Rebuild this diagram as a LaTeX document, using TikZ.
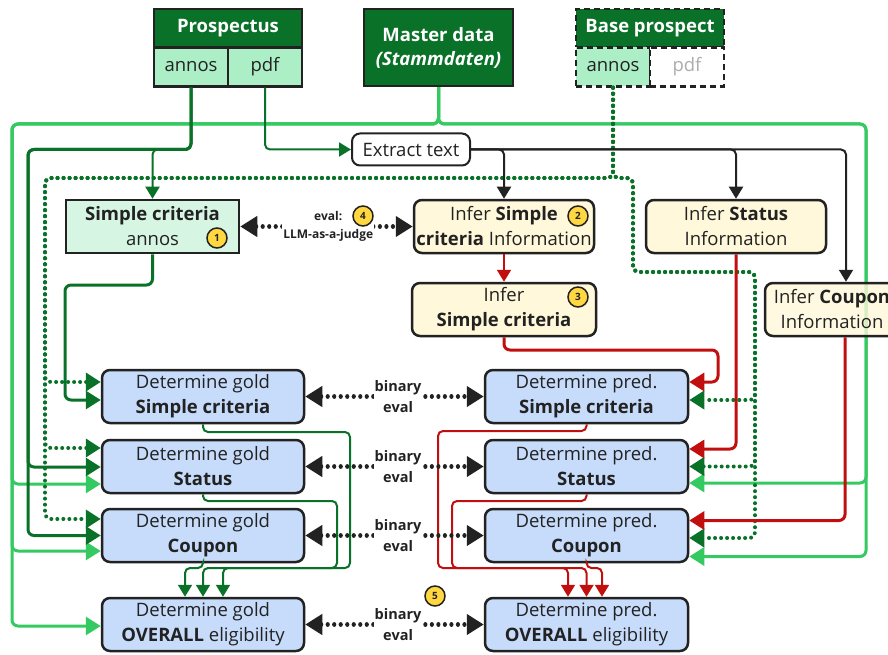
\documentclass[tikz,border=0pt]{standalone}
\usepackage{fontspec}
\setmainfont{Open Sans}
\usetikzlibrary{arrows.meta,backgrounds}

\definecolor{dkgreen}{RGB}{10,114,40}
\definecolor{ltgreen}{RGB}{52,201,97}
\definecolor{mint}{RGB}{172,239,199}
\definecolor{palemint}{RGB}{214,245,227}
\definecolor{cream}{RGB}{255,248,218}
\definecolor{paleblue}{RGB}{199,220,251}
\definecolor{predred}{RGB}{193,14,14}
\definecolor{badgefill}{RGB}{255,215,64}
\definecolor{ink}{RGB}{34,34,34}

\tikzset{
	txt/.style={text=ink, align=center, inner sep=0pt, font=\fontsize{18.5}{25}\selectfont},
	headbox/.style={draw=ink, line width=2.5pt, fill=dkgreen, text=white, align=center, inner sep=0pt, font=\bfseries\fontsize{18.5}{24}\selectfont},
	cellbox/.style={txt, draw=ink, line width=2.5pt, fill=mint, minimum width=74pt, minimum height=39pt},
	inferbox/.style={txt, draw=ink, line width=2.5pt, fill=cream, rounded corners=8pt, minimum height=53pt},
	detbox/.style={txt, draw=ink, line width=2.5pt, fill=paleblue, rounded corners=8pt, minimum width=202pt, minimum height=53pt},
	badge/.style={circle, draw=ink, line width=1.5pt, fill=badgefill, text=ink, minimum size=20pt, inner sep=0pt, font=\bfseries\fontsize{10}{10}\selectfont},
	thickline/.style={line width=3pt, rounded corners=6pt, -{Triangle[length=15pt,width=18pt]}},
	thinline/.style={line width=2pt, rounded corners=5pt, -{Triangle[length=12pt,width=14pt]}},
	dotline/.style={dkgreen, line width=4pt, line cap=round, dash pattern=on 0.01pt off 6pt, rounded corners=6pt, -{Triangle[length=15pt,width=18pt]}},
	evalline/.style={ink, line width=4.2pt, line cap=round, dash pattern=on 0.01pt off 6.5pt, {Triangle[length=17pt,width=20pt]}-{Triangle[length=17pt,width=20pt]}},
	evallabel/.style={fill=white, text=ink, align=center, inner sep=1pt, font=\bfseries\fontsize{14.5}{21}\selectfont}
}

\begin{document}
\begin{tikzpicture}[x=1pt,y=-1pt]
\useasboundingbox (0,0) rectangle (888,655);

%sources
\node[headbox, minimum width=148pt, minimum height=38pt] (prosp) at (228,28) {Prospectus};
\node[cellbox] (prospannos) at (191,67) {annos};
\node[cellbox] (prosppdf) at (265,67) {pdf};
\node[headbox, minimum width=149pt, minimum height=77pt] (master) at (438.5,47.5) {Master data\\\textit{(Stammdaten)}};
\node[headbox, dashed, dash pattern=on 6pt off 4pt, minimum width=148pt, minimum height=38pt] (base) at (650,28) {Base prospect};
\node[cellbox, dash pattern=on 6pt off 4pt] (baseannos) at (613,67) {annos};
\node[cellbox, dash pattern=on 6pt off 4pt, fill=white, text=black!32] (basepdf) at (687,67) {pdf};

%extraction and inference
\node[txt, draw=ink, line width=2pt, fill=white, rounded corners=8pt, minimum width=118pt, minimum height=32pt] (extract) at (411,149.5) {Extract text};
\node[txt, draw=ink, line width=2.5pt, fill=palemint, minimum width=173pt, minimum height=53pt] (scannos) at (152.5,226.5) {\textbf{Simple criteria}\\annos};
\node[inferbox, minimum width=180pt] (infsci) at (504,226.5) {Infer \textbf{Simple}\\\textbf{criteria} Information};
\node[inferbox, minimum width=180pt] (infstat) at (736,226.5) {Infer \textbf{Status}\\Information};
\node[inferbox, minimum width=184pt] (infsc) at (504,309.5) {Infer\\\textbf{Simple criteria}};
\node[inferbox, minimum width=134pt, fill opacity=0.8, text opacity=1] (infcoup) at (832,309.5) {Infer \textbf{Coupon}\\Information};

%determine boxes
\foreach \n/\y/\t in {sc/396.5/{\textbf{Simple criteria}}, stat/466.5/{\textbf{Status}}, coup/535.5/{\textbf{Coupon}}, ovr/624.5/{\textbf{OVERALL} eligibility}}{
	\node[detbox] (gold\n) at (203,\y) {Determine gold\\\t};
	\node[detbox, minimum width=203pt] (pred\n) at (586.5,\y) {Determine pred.\\\t};
}

%lanes
\coordinate (lgl) at (12,124);
\coordinate (lgr) at (866,124);
\coordinate (ldk) at (28,149.5);
\coordinate (ldot) at (45,178);
\coordinate (rdot1) at (633,178);
\coordinate (rdot2) at (755,272);
\coordinate (lsc) at (65,285);
\coordinate (rsc) at (718,350);
\coordinate (gl1) at (350,432);
\coordinate (gl2) at (337,501);
\coordinate (pl1) at (438,431);
\coordinate (pl2) at (452,501);
\coordinate (lowlane) at (0,568);

%master data lines
\begin{scope}[on background layer]
	\foreach \t/\s in {goldstat/-17.5pt, goldcoup/-15.5pt, goldovr/-1.5pt}{
		\draw[thickline, ltgreen] (master.south) |- (lgl) |- ([yshift=\s]\t.west);
	}
	\foreach \t/\s in {predstat/-16.5pt, predcoup/-21pt}{
		\draw[thickline, ltgreen] (master.south) |- (lgr) |- ([yshift=\s]\t.east);
	}
\end{scope}

%prospectus lines
\draw[thickline, dkgreen] (prospannos.south) |- (ldk) |- ([yshift=-0.5pt]goldstat.west);
\draw[thickline, dkgreen] (prospannos.south) |- (ldk) |- (goldcoup.west);
\draw[thinline, dkgreen] (prospannos.south) |- (scannos.north |- ldk) -- (scannos.north);
\draw[thinline, dkgreen] (prosppdf.south) |- (extract.west);
\draw[thickline, dkgreen] (scannos.south) |- (lsc) |- ([yshift=-3.5pt]goldsc.west);

%base prospect lines
\foreach \t/\s in {goldsc/14.5pt, goldstat/18.5pt, goldcoup/16.5pt}{
	\draw[dotline] (baseannos.south) |- (ldot) |- ([yshift=\s]\t.west);
}
\foreach \t/\s in {predsc/-3.5pt, predstat/0pt, predcoup/-2.5pt}{
	\draw[dotline] (baseannos.south) |- (rdot1) |- (rdot2) |- ([yshift=\s]\t.east);
}

%extracted text
\draw[thinline, ink] (extract.east) -| (infsci.north);
\draw[thinline, ink] (extract.east) -| (infstat.north);
\draw[thinline, ink] (extract.east) -| ([xshift=14pt]infcoup.north);

%inferred values
\draw[thinline, predred] (infsci.south) -- (infsc.north);
\draw[thickline, predred] (infsc.south) |- (rsc) |- ([yshift=14.5pt]predsc.east);
\draw[thickline, predred] (infstat.south) |- ([yshift=17.5pt]predstat.east);
\draw[thickline, predred] ([xshift=13pt]infcoup.south) |- ([yshift=15pt]predcoup.east);

%gold to overall
\draw[thinline, dkgreen] (goldsc.south) |- (gl1) -- (gl1 |- lowlane) -| ([xshift=20pt]goldovr.north);
\draw[thinline, dkgreen] (goldstat.south) |- (gl2) -- (gl2 |- lowlane) -| (goldovr.north);
\draw[thinline, dkgreen] (goldcoup.south) -- (goldcoup.south |- lowlane) -| ([xshift=-18pt]goldovr.north);

%pred to overall
\draw[thinline, predred] (predsc.south) |- (pl1) -- (pl1 |- lowlane) -| ([xshift=-18.5pt]predovr.north);
\draw[thinline, predred] (predstat.south) |- (pl2) -- (pl2 |- lowlane) -| (predovr.north);
\draw[thinline, predred] (predcoup.south) -- (predcoup.south |- lowlane) -| ([xshift=15.5pt]predovr.north);

%evaluations
\draw[evalline] (scannos.east) -- node[evallabel, pos=0.51, font=\bfseries\fontsize{12}{18}\selectfont] {eval:\\LLM-as-a-judge} (infsci.west);
\foreach \n in {sc,stat,coup,ovr}{
	\draw[evalline] (gold\n.east) -- node[evallabel, pos=0.52] {binary\\eval} (pred\n.west);
}

%badges
\node[badge] (b1) at (217,238) {1};
\node[badge] (b2) at (578,216) {2};
\node[badge] (b3) at (578,297) {3};
\node[badge] (b4) at (363,216) {4};
\node[badge] (b5) at (435,596) {5};
\end{tikzpicture}
\end{document}
